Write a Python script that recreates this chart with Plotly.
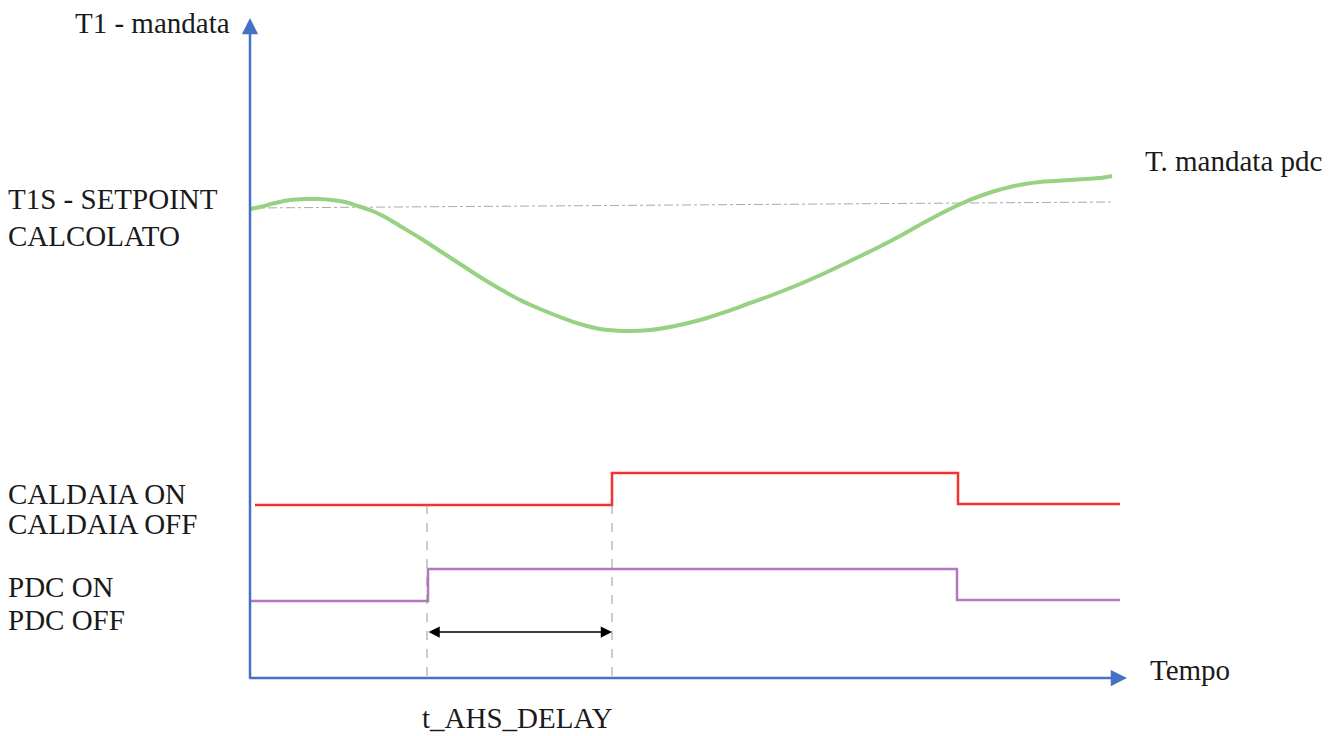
import plotly.graph_objects as go

# Green temperature curve (diagram units: x = time, y = screen-like vertical position)
curve_x = [250, 260, 275, 290, 305, 318, 332, 345, 358, 370, 385, 400, 420, 440, 460, 480, 500, 520, 540, 560, 580, 600, 625, 650, 675, 700, 725, 750, 775, 800, 825, 850, 875, 900, 925, 950, 965, 980, 995, 1010, 1025, 1040, 1055, 1070, 1085, 1100, 1112]
curve_y = [209, 207, 203, 200, 199, 199, 200, 202, 206, 210, 217, 226, 238, 251, 264, 277, 289, 300, 309, 317, 324, 329, 331, 330, 326, 320, 312, 303, 294, 284, 273, 261, 249, 236, 222, 209, 202, 196, 191, 187, 184, 182, 181, 180, 179, 178, 176]

setpoint_x = [250, 1112]
setpoint_y = [208, 202]

caldaia_x = [255, 612, 612, 958, 958, 1120]
caldaia_y = [505, 505, 473, 473, 504, 504]

pdc_x = [250, 428, 428, 957, 957, 1120]
pdc_y = [601, 601, 569, 569, 600, 600]

delay_start = 427
delay_end = 612

fig = go.Figure()

fig.add_trace(go.Scatter(x=setpoint_x, y=setpoint_y, mode="lines",
                         line=dict(color="rgb(170,170,170)", width=1, dash="dashdot"),
                         hoverinfo="skip"))
fig.add_trace(go.Scatter(x=curve_x, y=curve_y, mode="lines", line_shape="spline",
                         line=dict(color="rgb(150,210,130)", width=4), hoverinfo="skip"))
fig.add_trace(go.Scatter(x=caldaia_x, y=caldaia_y, mode="lines",
                         line=dict(color="rgb(245,50,50)", width=2.5), hoverinfo="skip"))
fig.add_trace(go.Scatter(x=pdc_x, y=pdc_y, mode="lines",
                         line=dict(color="rgb(180,120,190)", width=2.5), hoverinfo="skip"))
for xv in [delay_start, delay_end]:
    fig.add_trace(go.Scatter(x=[xv, xv], y=[505, 678], mode="lines",
                             line=dict(color="rgb(130,130,130)", width=0.8, dash="dash"),
                             hoverinfo="skip"))

# axes arrows
axis_col = "rgb(68,114,196)"
fig.add_annotation(x=250, y=18, ax=250, ay=680, xref="x", yref="y", axref="x", ayref="y",
                   text="", showarrow=True, arrowhead=2, arrowsize=1.3, arrowwidth=2.5,
                   arrowcolor=axis_col)
fig.add_annotation(x=1127, y=678, ax=248, ay=678, xref="x", yref="y", axref="x", ayref="y",
                   text="", showarrow=True, arrowhead=2, arrowsize=1.3, arrowwidth=2.5,
                   arrowcolor=axis_col)
# delay double arrow
fig.add_annotation(x=delay_end, y=632, ax=delay_start, ay=632, xref="x", yref="y", axref="x", ayref="y",
                   text="", showarrow=True, arrowhead=2, startarrowhead=2, arrowside="end+start",
                   arrowsize=1.5, startarrowsize=1.5, arrowwidth=1.5, arrowcolor="black")

font = dict(family="Liberation Serif, Times New Roman, serif", size=29, color="#1a1a1a")
labels = [
    ("T1 - mandata", 232, 23, "right"),
    ("T1S - SETPOINT", 6, 199, "left"),
    ("CALCOLATO", 6, 236, "left"),
    ("T. mandata pdc", 1143, 161, "left"),
    ("CALDAIA ON", 6, 494, "left"),
    ("CALDAIA OFF", 6, 524, "left"),
    ("PDC ON", 6, 587, "left"),
    ("PDC OFF", 6, 620, "left"),
    ("Tempo", 1148, 670, "left"),
    ("t_AHS_DELAY", 517, 718, "center"),
]
for t, x, y, anc in labels:
    fig.add_annotation(x=x, y=y, xref="x", yref="y", text=t, showarrow=False,
                       xanchor=anc, yanchor="middle", font=font)

fig.update_layout(
    width=1341, height=736, margin=dict(l=0, r=0, t=0, b=0),
    paper_bgcolor="white", plot_bgcolor="white", showlegend=False,
    xaxis=dict(range=[0, 1341], visible=False, fixedrange=True),
    yaxis=dict(range=[736, 0], visible=False, fixedrange=True),
)
fig.write_html("out.html", config={"displayModeBar": False},
               post_script="document.body.style.margin='0';document.body.style.overflow='hidden';")
